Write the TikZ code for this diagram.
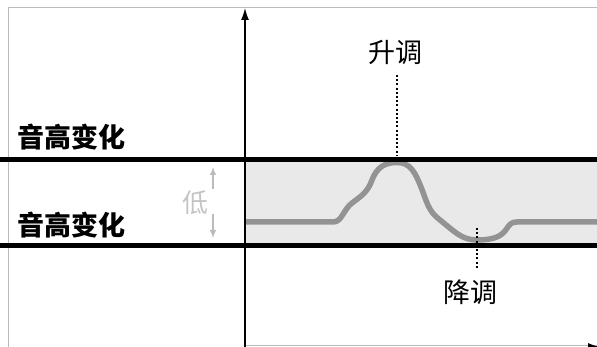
\documentclass[tikz,border=0pt]{standalone}
\usepackage{fontspec}
\newfontfamily\cjk{Noto Sans CJK SC}
\usetikzlibrary{arrows.meta}
\definecolor{framegray}{HTML}{BBBBBB}
\definecolor{bandgray}{HTML}{E9E9E9}
\definecolor{curvegray}{HTML}{939393}
\definecolor{lightlabel}{HTML}{C4C4C4}
\tikzset{
  title/.style={font=\cjk\bfseries\fontsize{27}{30}\selectfont, inner sep=0pt},
  tag/.style={font=\cjk\fontsize{27}{30}\selectfont, inner sep=0pt},
  lowtag/.style={font=\cjk\fontsize{26}{30}\selectfont, text=lightlabel, inner sep=0pt},
  bound/.style={line width=5pt, black},
  dotline/.style={line width=2pt, dash pattern=on 2pt off 2.2pt, line cap=butt},
  small arrow/.style={draw=framegray, line width=1.2pt, -{Latex[length=8pt,width=6.5pt]}},
}
\begin{document}
\begin{tikzpicture}[x=1pt,y=-1pt]
\useasboundingbox (0,0) rectangle (597,347);
\clip (0,0) rectangle (597,347);
% frame
\draw[framegray, line width=1.5pt] (8.5,620) -- (8.5,7.5) -- (620,7.5);
\draw[framegray, line width=1.5pt] (245,345.5) -- (620,345.5);
% band
\fill[bandgray] (245,159.5) rectangle (620,245.5);
% pitch curve
\draw[curvegray, line width=5.5pt, line join=round]
  (245,222) -- (333,222)
  .. controls (342,222) and (343,210) .. (352,203)
  .. controls (363,195) and (368,191) .. (372,180)
  .. controls (377,167) and (385,162.5) .. (397,162.5)
  .. controls (410,162.5) and (415,172) .. (421,187)
  .. controls (427,202) and (428,211) .. (440,220)
  .. controls (455,232) and (462,240) .. (477,240)
  .. controls (494,240) and (501,236) .. (505,231)
  .. controls (510,224) and (511,222) .. (517,222)
  -- (620,222);
% boundary lines
\draw[bound] (0,159.5) -- (620,159.5);
\draw[bound] (0,245.5) -- (620,245.5);
% axes
\coordinate (ybase) at (245,360);
\coordinate (ytop) at (245,8);
\draw[black, line width=1.4pt, -{Latex[length=12pt,width=8pt]}] (ybase) -- (ytop);
\coordinate (xbase) at (245,347);
\coordinate (xtip) at (600,347);
\draw[black, line width=1pt, -{Latex[length=12pt,width=8pt]}] (xbase) -- (xtip);
% labels
\node[title] (upper) at (71,137) {音高变化};
\node[title] (lower) at (71,225) {音高变化};
\node[tag] (rise) at (395,52) {升调};
\node[tag] (fall) at (470,292) {降调};
\node[lowtag] (low) at (195,203) {低};
% dotted leaders
\coordinate (risepeak) at (397,156);
\coordinate (falltop) at (477,228);
\draw[dotline] (397,75) -- (risepeak);
\draw[dotline] (falltop) -- (477,269);
% small arrows
\coordinate (upstart) at (213,189);
\coordinate (uptip) at (213,167);
\coordinate (downstart) at (213,214);
\coordinate (downtip) at (213,238);
\draw[small arrow] (upstart) -- (uptip);
\draw[small arrow] (downstart) -- (downtip);
\end{tikzpicture}
\end{document}
